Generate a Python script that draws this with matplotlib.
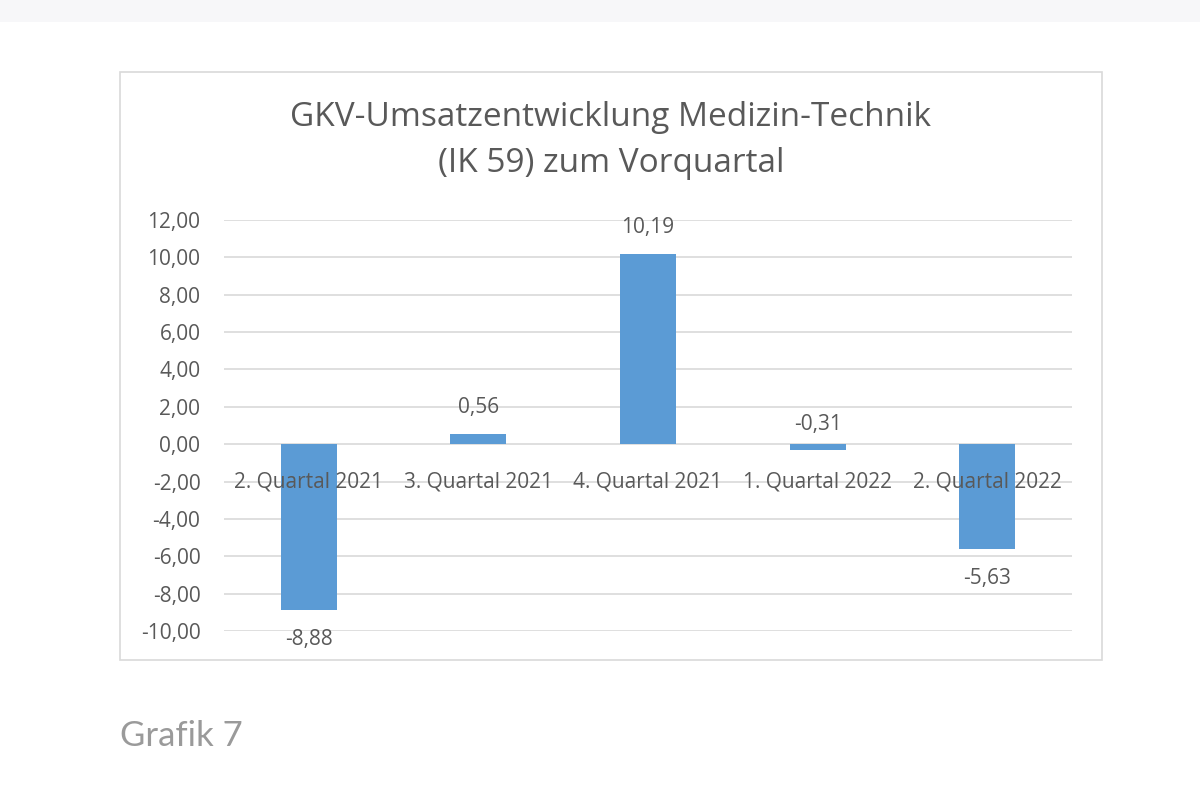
import matplotlib.pyplot as plt
from matplotlib.patches import Rectangle
import numpy as np

# data
quarters = ['2. Quartal 2021', '3. Quartal 2021', '4. Quartal 2021', '1. Quartal 2022', '2. Quartal 2022']
changes = [-8.88, 0.56, 10.19, -0.31, -5.63]
y_ticks = [-10, -8, -6, -4, -2, 0, 2, 4, 6, 8, 10, 12]

text_col = '#595959'
bar_col = '#5b9bd5'
grid_col = '#d9d9d9'
fs = 15

plt.rcParams['font.family'] = ['Open Sans', 'DejaVu Sans']

fig = plt.figure(figsize=(12, 8), dpi=100)
fig.patch.set_facecolor('white')

# light band at the very top and the chart frame
fig.patches.append(Rectangle((0, 1 - 22 / 800), 1, 22 / 800, transform=fig.transFigure,
                             facecolor='#f7f7f9', edgecolor='none', zorder=0))
fig.patches.append(Rectangle((120 / 1200, 1 - 660 / 800), 982 / 1200, 588 / 800,
                             transform=fig.transFigure, facecolor='none',
                             edgecolor=grid_col, linewidth=1.2, zorder=0))

ax = fig.add_axes([224 / 1200, 1 - 631 / 800, 848 / 1200, 411 / 800])
ax.set_facecolor('none')
ax.set_zorder(2)

x = np.arange(len(quarters))
ax.bar(x, changes, width=0.33, color=bar_col, zorder=3)

ax.set_xlim(-0.5, len(quarters) - 0.5)
ax.set_ylim(-10, 12)
ax.set_yticks(y_ticks)
ax.set_yticklabels([f'{v:.2f}'.replace('.', ',') for v in y_ticks], color=text_col, fontsize=fs)
ax.tick_params(axis='y', length=0, pad=17)
ax.set_xticks([])
for s in ax.spines.values():
    s.set_visible(False)
for v in y_ticks:
    ax.axhline(v, color=grid_col, linewidth=1.2, zorder=1)

# category labels sit just under the zero line
for xi, q in zip(x, quarters):
    ax.text(xi, -2.0, q, ha='center', va='center', fontsize=fs, color=text_col, zorder=4)

# value labels
for xi, v in zip(x, changes):
    lab = f'{v:.2f}'.replace('.', ',')
    if v >= 0:
        ax.annotate(lab, (xi, v), xytext=(0, 19), textcoords='offset points',
                    ha='center', va='center', fontsize=fs, color=text_col)
    elif v > -1:
        ax.annotate(lab, (xi, 0), xytext=(0, 14), textcoords='offset points',
                    ha='center', va='center', fontsize=fs, color=text_col)
    else:
        ax.annotate(lab, (xi, v), xytext=(0, -21), textcoords='offset points',
                    ha='center', va='center', fontsize=fs, color=text_col)

fig.text(611 / 1200, 1 - 118 / 800, 'GKV-Umsatzentwicklung Medizin-Technik',
         ha='center', va='center', fontsize=24, color=text_col)
fig.text(611 / 1200, 1 - 163 / 800, '(IK 59) zum Vorquartal',
         ha='center', va='center', fontsize=24, color=text_col)

fig.text(120 / 1200, 1 - 736 / 800, 'Grafik 7', ha='left', va='center',
         fontsize=25, color='#9a9a9a', family=['Lato', 'DejaVu Sans'])

fig.savefig('out.png', dpi=100, facecolor='white')
